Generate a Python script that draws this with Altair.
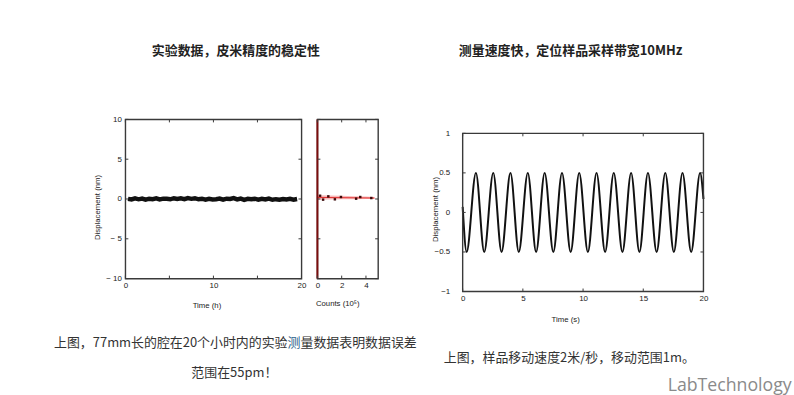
import altair as alt
import pandas as pd

# ---------------- texts ----------------
TITLES = ["实验数据，皮米精度的稳定性", "测量速度快，定位样品采样带宽10MHz"]
CAPTION_L1 = ["上图，77mm长的腔在20个小时内的实验", "测", "量数据表明数据误差"]
CAPTION_L2 = ["范围在55pm！"]
CAPTION_R = ["上图，样品移动速度2米/秒，移动范围1m。"]
WATERMARK = ["LabTechnology"]
AXIS_TITLES = ["Displacement (nm)", "Time (h)", "Counts (10⁵)", "Displacement (nm)", "Time (s)"]

# ---------------- panel 1: displacement over 20 h ----------------
P1_TIME = [0.3, 0.7, 1.1, 1.5, 1.9, 2.3, 2.7, 3.1, 3.5, 3.9,
           4.3, 4.7, 5.1, 5.5, 5.9, 6.3, 6.7, 7.1, 7.5, 7.9,
           8.3, 8.7, 9.1, 9.5, 9.9, 10.3, 10.7, 11.1, 11.5, 11.9,
           12.3, 12.7, 13.1, 13.5, 13.9, 14.3, 14.7, 15.1, 15.5, 15.9,
           16.3, 16.7, 17.1, 17.5, 17.9, 18.3, 18.7, 19.1, 19.5]
P1_DISP = [0.02, -0.06, 0.08, -0.04, 0.06, -0.08, 0.04, -0.02, 0.08, -0.06,
           0.04, 0.02, -0.04, 0.1, 0.0, 0.08, -0.02, 0.12, 0.02, 0.1,
           -0.04, 0.04, -0.08, 0.02, -0.06, -0.02, 0.06, -0.08, 0.04, 0.0,
           0.12, -0.04, 0.06, -0.1, 0.02, -0.04, 0.04, -0.08, 0.02, -0.06,
           0.04, -0.1, -0.02, -0.08, 0.0, -0.06, 0.02, -0.08, 0.0]
P1_XTICKS = [0, 5, 10, 15, 20]
P1_XLABELS = [0, 10, 20]
P1_YTICKS = [-10, -5, 0, 5, 10]

# ---------------- panel 2: histogram (counts) ----------------
P2_BAND_C = [0, 1, 2, 3, 4, 4.7]
P2_BAND_LO = [-0.1, -0.06, -0.04, -0.02, 0.0, 0.0]
P2_BAND_HI = [0.48, 0.44, 0.4, 0.35, 0.3, 0.26]
P2_FIT_C = [0, 4.7]
P2_FIT_Y = [0.2, 0.12]
P2_PTS_C = [0.22, 0.47, 0.9, 1.44, 1.94, 3.19, 3.53, 4.44]
P2_PTS_Y = [0.41, -0.08, 0.33, -0.04, 0.25, 0.04, 0.25, 0.12]
P2_XTICKS = [0, 2, 4]
P2_YTICKS = [-10, -5, 0, 5, 10]

# ---------------- panel 3: oscillation over 20 s (read extrema) ----------------
P3_TIME = [0.0, 0.33, 1.10, 1.79, 2.54, 3.23, 3.97, 4.66, 5.41, 6.10,
           6.81, 7.53, 8.25, 8.97, 9.68, 10.40, 11.12, 11.83, 12.55, 13.27,
           13.99, 14.68, 15.39, 16.11, 16.83, 17.54, 18.26, 18.98, 19.72, 20.0]
P3_DISP = [0.07, -0.5, 0.5, -0.5, 0.5, -0.5, 0.5, -0.5, 0.5, -0.5,
           0.5, -0.5, 0.5, -0.5, 0.5, -0.5, 0.5, -0.5, 0.5, -0.5,
           0.5, -0.5, 0.5, -0.5, 0.5, -0.5, 0.5, -0.5, 0.5, 0.17]
P3_XTICKS = [0, 5, 10, 15, 20]
P3_YTICKS = [-1, -0.5, 0, 0.5, 1]

# ---------------- styling ----------------
FRAME = "#3a3a3a"
TXT = "#222222"
LABEL_FONT = "Liberation Sans"
CJK = "Noto Sans CJK SC"
LBL_SIZE = 8
TTL_SIZE = 7.8
TICK_LEN = 3
X0 = 125  # page x of the first panel's left frame edge (shared origin of all rows)
FRAME_VIEW = alt.ViewBackground(stroke=FRAME, strokeWidth=1.4)
NO_VIEW = alt.ViewBackground(strokeOpacity=0)


def anchor(x0, x1, y0, y1):
    return alt.Chart(pd.DataFrame({"a": [0]})).mark_rule(strokeOpacity=0, strokeWidth=0).encode(
        x=alt.value(x0), x2=alt.value(x1), y=alt.value(y0), y2=alt.value(y1))


def x_axis(values, title, tx, ty, pad=3):
    return alt.Axis(values=values, ticks=False, domain=False, grid=False, labelFlush=False,
                    labelOverlap=False, labelFont=LABEL_FONT, labelFontSize=LBL_SIZE, labelColor=TXT,
                    labelPadding=pad, title=title, titleFont=LABEL_FONT, titleFontSize=TTL_SIZE,
                    titleFontWeight="normal", titleColor=TXT, titleX=tx, titleY=ty,
                    titleBaseline="middle", titleAlign="center")


def y_axis(values, title, tx, ty, pad=4, expr=None, labels=True, fmt=None):
    kw = {}
    if expr is not None:
        kw["labelExpr"] = expr
    if fmt is not None:
        kw["format"] = fmt
    return alt.Axis(values=values, ticks=False, domain=False, grid=False, labelFlush=False,
                    labelOverlap=False, labels=labels, labelFont=LABEL_FONT, labelFontSize=LBL_SIZE,
                    labelColor=TXT, labelPadding=pad, title=title, titleFont=LABEL_FONT,
                    titleFontSize=TTL_SIZE, titleFontWeight="normal", titleColor=TXT, titleX=tx,
                    titleY=ty, titleAngle=270, titleBaseline="middle", titleAlign="center", **kw)


def tick_layers(xvals, yvals, X, Y, w, top, bottom):
    """Inward ticks on all four frame sides; X / Y are the panel's shared encodings."""
    layers = []
    dx = pd.DataFrame({"x": xvals})
    for y0, y1 in [(top, top + TICK_LEN), (bottom, bottom - TICK_LEN)]:
        layers.append(alt.Chart(dx).mark_rule(color=FRAME, strokeWidth=1).encode(
            x=X, y=alt.value(y0), y2=alt.value(y1)))
    dy = pd.DataFrame({"y": yvals})
    for x0, x1 in [(0, TICK_LEN), (w, w - TICK_LEN)]:
        layers.append(alt.Chart(dy).mark_rule(color=FRAME, strokeWidth=1).encode(
            y=Y, x=alt.value(x0), x2=alt.value(x1)))
    return layers


def text_layer(s, x, y, size, weight="normal", color="#333333", align="center", font=CJK):
    return alt.Chart(pd.DataFrame({"s": [s]})).mark_text(
        font=font, fontSize=size, fontWeight=weight, color=color, align=align, baseline="middle"
    ).encode(text="s:N", x=alt.value(x - X0), y=alt.value(y))


# ---- panel 1 (page: x 125-302, y 118-278) ----
W1, H1 = 177, 160
X1 = alt.X("x:Q", scale=alt.Scale(domain=[0, 20], nice=False, zero=False),
           axis=x_axis(P1_XLABELS, AXIS_TITLES[1], 81.5, 27))
Y1 = alt.Y("y:Q", scale=alt.Scale(domain=[-10, 10], nice=False, zero=False),
           axis=y_axis(P1_YTICKS, AXIS_TITLES[0], -28, 88, 4,
                       "datum.value < 0 ? '\u2212 ' + format(-datum.value, 'd') : datum.label"))
p1_line = alt.Chart(pd.DataFrame({"x": P1_TIME, "y": P1_DISP})).mark_line(
    color="#111111", strokeWidth=4.5).encode(x=X1, y=Y1)
panel1 = alt.layer(p1_line, anchor(-125, 184, -18, 212),
                   *tick_layers(P1_XTICKS, P1_YTICKS, X1, Y1, W1, 0, H1)
                   ).properties(width=W1, height=H1, view=FRAME_VIEW)

# ---- panel 2 (page: x 316-377, y 118-278) ----
W2, H2 = 61, 160
X2 = alt.X("x:Q", scale=alt.Scale(domain=[0, 5], nice=False, zero=False),
           axis=x_axis(P2_XTICKS, AXIS_TITLES[2], 20, 25))
Y2 = alt.Y("y:Q", scale=alt.Scale(domain=[-10, 10], nice=False, zero=False),
           axis=y_axis(P2_YTICKS, "", 0, 0, 4, None, False))
p2_band = alt.Chart(pd.DataFrame({"x": P2_BAND_C, "y": P2_BAND_LO, "y2": P2_BAND_HI})).mark_area(
    color="#f28b8b", opacity=0.6).encode(x=X2, y=Y2, y2="y2:Q")
p2_fit = alt.Chart(pd.DataFrame({"x": P2_FIT_C, "y": P2_FIT_Y})).mark_line(
    color="#e03030", strokeWidth=1).encode(x=X2, y=Y2)
p2_pts = alt.Chart(pd.DataFrame({"x": P2_PTS_C, "y": P2_PTS_Y})).mark_square(
    color="#3a0a0a", size=6, opacity=1).encode(x=X2, y=Y2)
p2_zero = alt.Chart(pd.DataFrame({"x": [0]})).mark_rule(color="#7a0d0d", strokeWidth=2).encode(x=X2)
panel2 = alt.layer(p2_band, p2_fit, p2_pts, p2_zero, anchor(-7, 84, -18, 212),
                   *tick_layers(P2_XTICKS, P2_YTICKS, X2, Y2, W2, 0, H2)
                   ).properties(width=W2, height=H2, view=FRAME_VIEW)

# ---- panel 3 (page: x 461-703, y 132-291; view starts at y 118) ----
W3, H3, TOP3 = 242, 173, 14
X3 = alt.X("x:Q", scale=alt.Scale(domain=[0, 20], nice=False, zero=False),
           axis=x_axis(P3_XTICKS, AXIS_TITLES[4], 103, 28))
Y3 = alt.Y("y:Q", scale=alt.Scale(domain=[-1, 1], range=[H3, TOP3], nice=False, zero=False),
           axis=y_axis(P3_YTICKS, AXIS_TITLES[3], -27, 90, 13, None, True, "~g"))
p3_line = alt.Chart(pd.DataFrame({"x": P3_TIME, "y": P3_DISP})).mark_line(
    color="#111111", strokeWidth=2, interpolate="monotone").encode(x=X3, y=Y3)
p3_frame = alt.Chart(pd.DataFrame({"a": [0]})).mark_rect(
    fillOpacity=0, stroke=FRAME, strokeWidth=1.4).encode(
    x=alt.value(0), x2=alt.value(W3), y=alt.value(TOP3), y2=alt.value(H3))
panel3 = alt.layer(p3_line, p3_frame, anchor(-61, 333, -18, 212),
                   *tick_layers(P3_XTICKS, P3_YTICKS, X3, Y3, W3, TOP3, H3)
                   ).properties(width=W3, height=H3, view=NO_VIEW)

# ---- text rows (all rows share the x origin of panel 1) ----
row_top = alt.layer(anchor(-X0, 794 - X0, 0, 100),
                    text_layer(TITLES[0], 236, 50, 13, "bold", "#222222"),
                    text_layer(TITLES[1], 572.5, 50, 13, "bold", "#222222")
                    ).properties(width=794 - X0, height=100, view=NO_VIEW)

row_bottom = alt.layer(anchor(-X0, 794 - X0, 0, 65),
                       text_layer(CAPTION_L1[0], 288, 12, 13, align="right"),
                       text_layer(CAPTION_L1[1], 288, 12, 13, color="#2b5f8a", align="left"),
                       text_layer(CAPTION_L1[2], 301, 12, 13, align="left"),
                       text_layer(CAPTION_L2[0], 234.5, 42, 13),
                       text_layer(CAPTION_R[0], 445, 27, 13, align="left"),
                       text_layer(WATERMARK[0], 670, 55, 17.8, color="#8a8a8a", align="left",
                                  font="Open Sans")
                       ).properties(width=794 - X0, height=65, view=NO_VIEW)

row_mid = alt.hconcat(panel1, panel2, panel3, spacing=0)

chart = alt.vconcat(row_top, row_mid, row_bottom, spacing=0).properties(
    padding=0, background="white")

chart.save("out.html", embed_options={"renderer": "svg", "actions": False})
